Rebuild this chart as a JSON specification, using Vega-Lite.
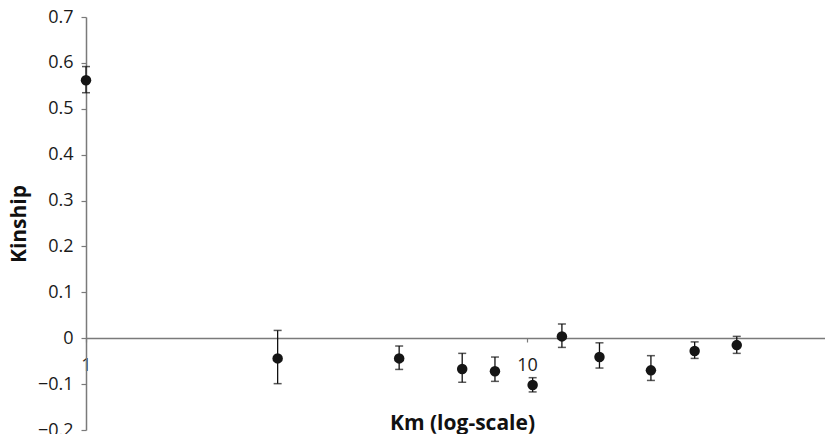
{
  "$schema": "https://vega.github.io/schema/vega-lite/v6.json",
  "autosize": "none",
  "width": 739,
  "height": 413,
  "padding": {"left": 86, "top": 17, "right": 0, "bottom": 4},
  "background": "white",
  "config": {
    "view": {"stroke": null},
    "font": "Open Sans",
    "axis": {"grid": false, "labelFont": "Open Sans", "titleFont": "Open Sans", "labelColor": "#1a1a1a", "titleColor": "#111", "domainColor": "#7a7a7a", "tickColor": "#7a7a7a", "domainWidth": 1.5, "tickWidth": 1.2}
  },
  "data": {
    "values": [
      {"km": 1.0, "kinship": 0.562, "lower": 0.535, "upper": 0.592},
      {"km": 2.72, "kinship": -0.044, "lower": -0.099, "upper": 0.017},
      {"km": 5.13, "kinship": -0.044, "lower": -0.068, "upper": -0.017},
      {"km": 7.13, "kinship": -0.067, "lower": -0.096, "upper": -0.033},
      {"km": 8.46, "kinship": -0.072, "lower": -0.094, "upper": -0.041},
      {"km": 10.3, "kinship": -0.102, "lower": -0.117, "upper": -0.086},
      {"km": 12.0, "kinship": 0.004, "lower": -0.020, "upper": 0.031},
      {"km": 14.6, "kinship": -0.041, "lower": -0.065, "upper": -0.010},
      {"km": 19.1, "kinship": -0.070, "lower": -0.092, "upper": -0.038},
      {"km": 24.0, "kinship": -0.028, "lower": -0.044, "upper": -0.008},
      {"km": 29.9, "kinship": -0.015, "lower": -0.033, "upper": 0.004}
    ]
  },
  "encoding": {
    "x": {
      "field": "km", "type": "quantitative",
      "scale": {"type": "log", "domain": [1, 47.4], "nice": false},
      "axis": {"values": [1, 10], "offset": -92, "tickSize": 4, "labelPadding": 14, "labelFontSize": 18, "title": "Km (log-scale)", "titleFontSize": 21, "titleFontWeight": "bold", "titlePadding": 38, "titleX": 376, "titleAlign": "center", "labelFlush": false}
    },
    "y": {
      "type": "quantitative",
      "scale": {"domain": [-0.2, 0.7], "nice": false, "zero": false},
      "axis": {"values": [-0.2, -0.1, 0, 0.1, 0.2, 0.3, 0.4, 0.5, 0.6, 0.7], "format": "~g", "tickSize": 5, "labelPadding": 8, "labelFontSize": 18, "title": "Kinship", "titleFontSize": 21, "titleFontWeight": "bold", "titlePadding": 8}
    }
  },
  "layer": [
    {
      "mark": {"type": "rule", "color": "#111", "strokeWidth": 1.3},
      "encoding": {"y": {"field": "lower"}, "y2": {"field": "upper"}}
    },
    {
      "mark": {"type": "tick", "orient": "horizontal", "size": 8, "thickness": 1.5, "color": "#111"},
      "encoding": {"y": {"field": "lower"}}
    },
    {
      "mark": {"type": "tick", "orient": "horizontal", "size": 8, "thickness": 1.5, "color": "#111"},
      "encoding": {"y": {"field": "upper"}}
    },
    {
      "mark": {"type": "point", "filled": true, "shape": "circle", "size": 110, "color": "#151515", "opacity": 1},
      "encoding": {"y": {"field": "kinship"}}
    }
  ]
}
